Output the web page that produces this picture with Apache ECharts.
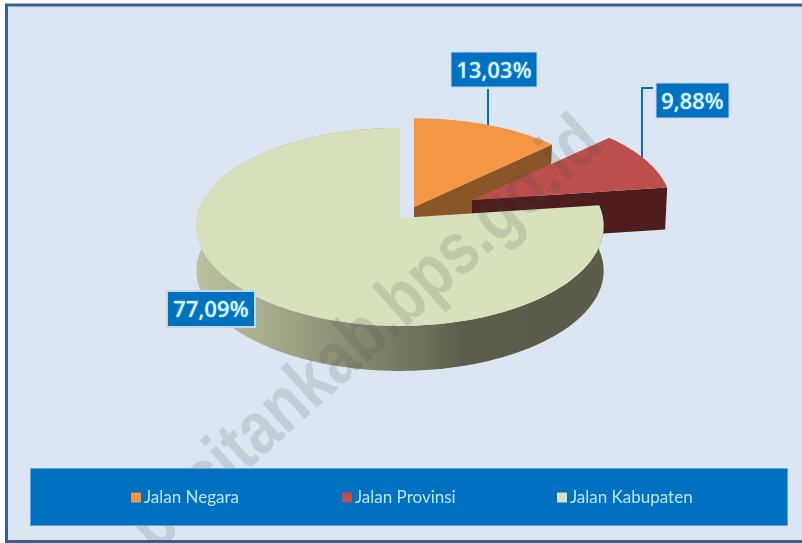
<!DOCTYPE html>
<html><head><meta charset="utf-8">
<style>html,body{margin:0;padding:0;background:#fff}#c{width:802px;height:543px}</style>
<script src="https://cdn.jsdelivr.net/npm/echarts@6/dist/echarts.min.js"></script>
</head><body><div id="c"></div>
<script>
var categories = ['Jalan Negara', 'Jalan Provinsi', 'Jalan Kabupaten'];
var shares = [13.03, 9.88, 77.09];
var watermarkText = 'pacitankab.bps.go.id';

var topColors = ['#f59645', '#bc4f4c', '#d7e2bc'];
var sideColors = ['#8a5527', '#4f1d1d', null];
var apex = [[414, 207], [472, 200], [400, 218]];
var depth = [44, 42, 45];
var radiusScale = [0.985, 0.98, 1];
var labelBox = [[451, 52, 86, 35], [656, 83, 73, 35], [167, 291, 88, 36]];
var leaders = [[[488, 89], [488, 126]], [[653, 88], [642, 88], [642, 163]], null];
var legendLeft = [131, 342, 557];
var RX = 203, RY = 99, PERSP_X = 0.08, PERSP_Y = 0.09;

var total = shares.reduce(function (a, b) { return a + b; }, 0);
function project(o, deg, k) {
  var t = deg * Math.PI / 180, u = Math.sin(t), v = -Math.cos(t);
  return [o[0] + k * RX * u * (1 + PERSP_X * v), o[1] + k * RY * v * (1 + PERSP_Y * v)];
}
function arc(o, a0, a1, k) {
  var pts = [], n = Math.max(8, Math.ceil(Math.abs(a1 - a0)));
  for (var i = 0; i <= n; i++) pts.push(project(o, a0 + (a1 - a0) * i / n, k));
  return pts;
}
var creamWall = {
  type: 'linear', x: 195, y: 0, x2: 604, y2: 0, global: true,
  colorStops: [
    { offset: 0, color: '#bcc3a1' },
    { offset: 0.18, color: '#a5ab8c' },
    { offset: 0.46, color: '#7c8068' },
    { offset: 0.66, color: '#5b5d4a' },
    { offset: 1, color: '#5a5c49' }
  ]
};
function sliceRenderer(idx) {
  return function (params, api) {
    var before = 0;
    for (var i = 0; i < idx; i++) before += shares[i];
    var a0 = before / total * 360, a1 = (before + api.value(0)) / total * 360;
    var o = apex[idx], d = depth[idx], kids = [];
    if (leaders[idx]) kids.push({ type: 'polyline', shape: { points: leaders[idx] },
      style: { stroke: '#0070c0', lineWidth: 2, fill: null } });
    var rim = arc(o, a0, a1, radiusScale[idx]);
    if (sideColors[idx]) {
      var e = rim[rim.length - 1];
      kids.push({ type: 'polygon', shape: { points: [o, e, [e[0] - 2, e[1] + d], [o[0], o[1] + d]] },
        style: { fill: sideColors[idx] } });
    } else {
      var low = rim.map(function (p) { return [p[0], p[1] + d]; }).reverse();
      kids.push({ type: 'polygon', shape: { points: rim.concat(low) }, style: { fill: creamWall } });
    }
    kids.push({ type: 'polygon', shape: { points: [o].concat(rim) }, style: { fill: topColors[idx] } });
    var b = labelBox[idx];
    kids.push({ type: 'rect', shape: { x: b[0], y: b[1], width: b[2], height: b[3] },
      style: { fill: '#0070c0', stroke: '#c3d8ec', lineWidth: idx === 2 ? 2 : 1 } });
    kids.push({ type: 'text', x: b[0] + b[2] / 2, y: b[1] + b[3] / 2 + 2,
      style: { text: api.value(0).toFixed(2).replace('.', ',') + '%', fill: '#d8f5ff',
        font: '600 22px "Open Sans"', align: 'center', verticalAlign: 'middle',
        textShadowColor: '#7fd0f5', textShadowBlur: 2 } });
    return { type: 'group', children: kids };
  };
}
var chart = echarts.init(document.getElementById('c'), null, { renderer: 'canvas' });
chart.setOption({
  animation: false,
  backgroundColor: '#ffffff',
  legend: categories.map(function (c, i) {
    return {
      data: [c], left: legendLeft[i], top: 489, itemWidth: 10, itemHeight: 10, itemGap: 0, z: 20,
      selectedMode: false, icon: 'rect', padding: 0,
      textStyle: { color: '#bfe6f8', fontSize: 17, fontFamily: 'Lato', padding: [0, 0, 0, -2] }
    };
  }),
  graphic: [
    { type: 'rect', z: -5, silent: true, shape: { x: 6.5, y: 5, width: 810, height: 536.5 },
      style: { fill: '#dce6f2', stroke: '#376092', lineWidth: 3 } },
    { type: 'text', z: 10, silent: true, x: 166, y: 566, scaleX: 1, scaleY: 1.22, rotation: 42 * Math.PI / 180,
      style: { text: watermarkText, fill: 'rgba(60,75,80,0.16)', font: 'bold 61px "Liberation Sans"',
        align: 'left', verticalAlign: 'bottom' } },
    { type: 'rect', z: 15, silent: true, shape: { x: 30.5, y: 468.5, width: 757, height: 57 },
      style: { fill: '#0070c0', stroke: '#5ea3dc', lineWidth: 1 } }
  ],
  series: categories.map(function (c, i) {
    return {
      type: 'custom', name: c, coordinateSystem: 'none', silent: true,
      itemStyle: { color: topColors[i] },
      renderItem: sliceRenderer(i),
      data: [[shares[i]]]
    };
  })
});
</script></body></html>
